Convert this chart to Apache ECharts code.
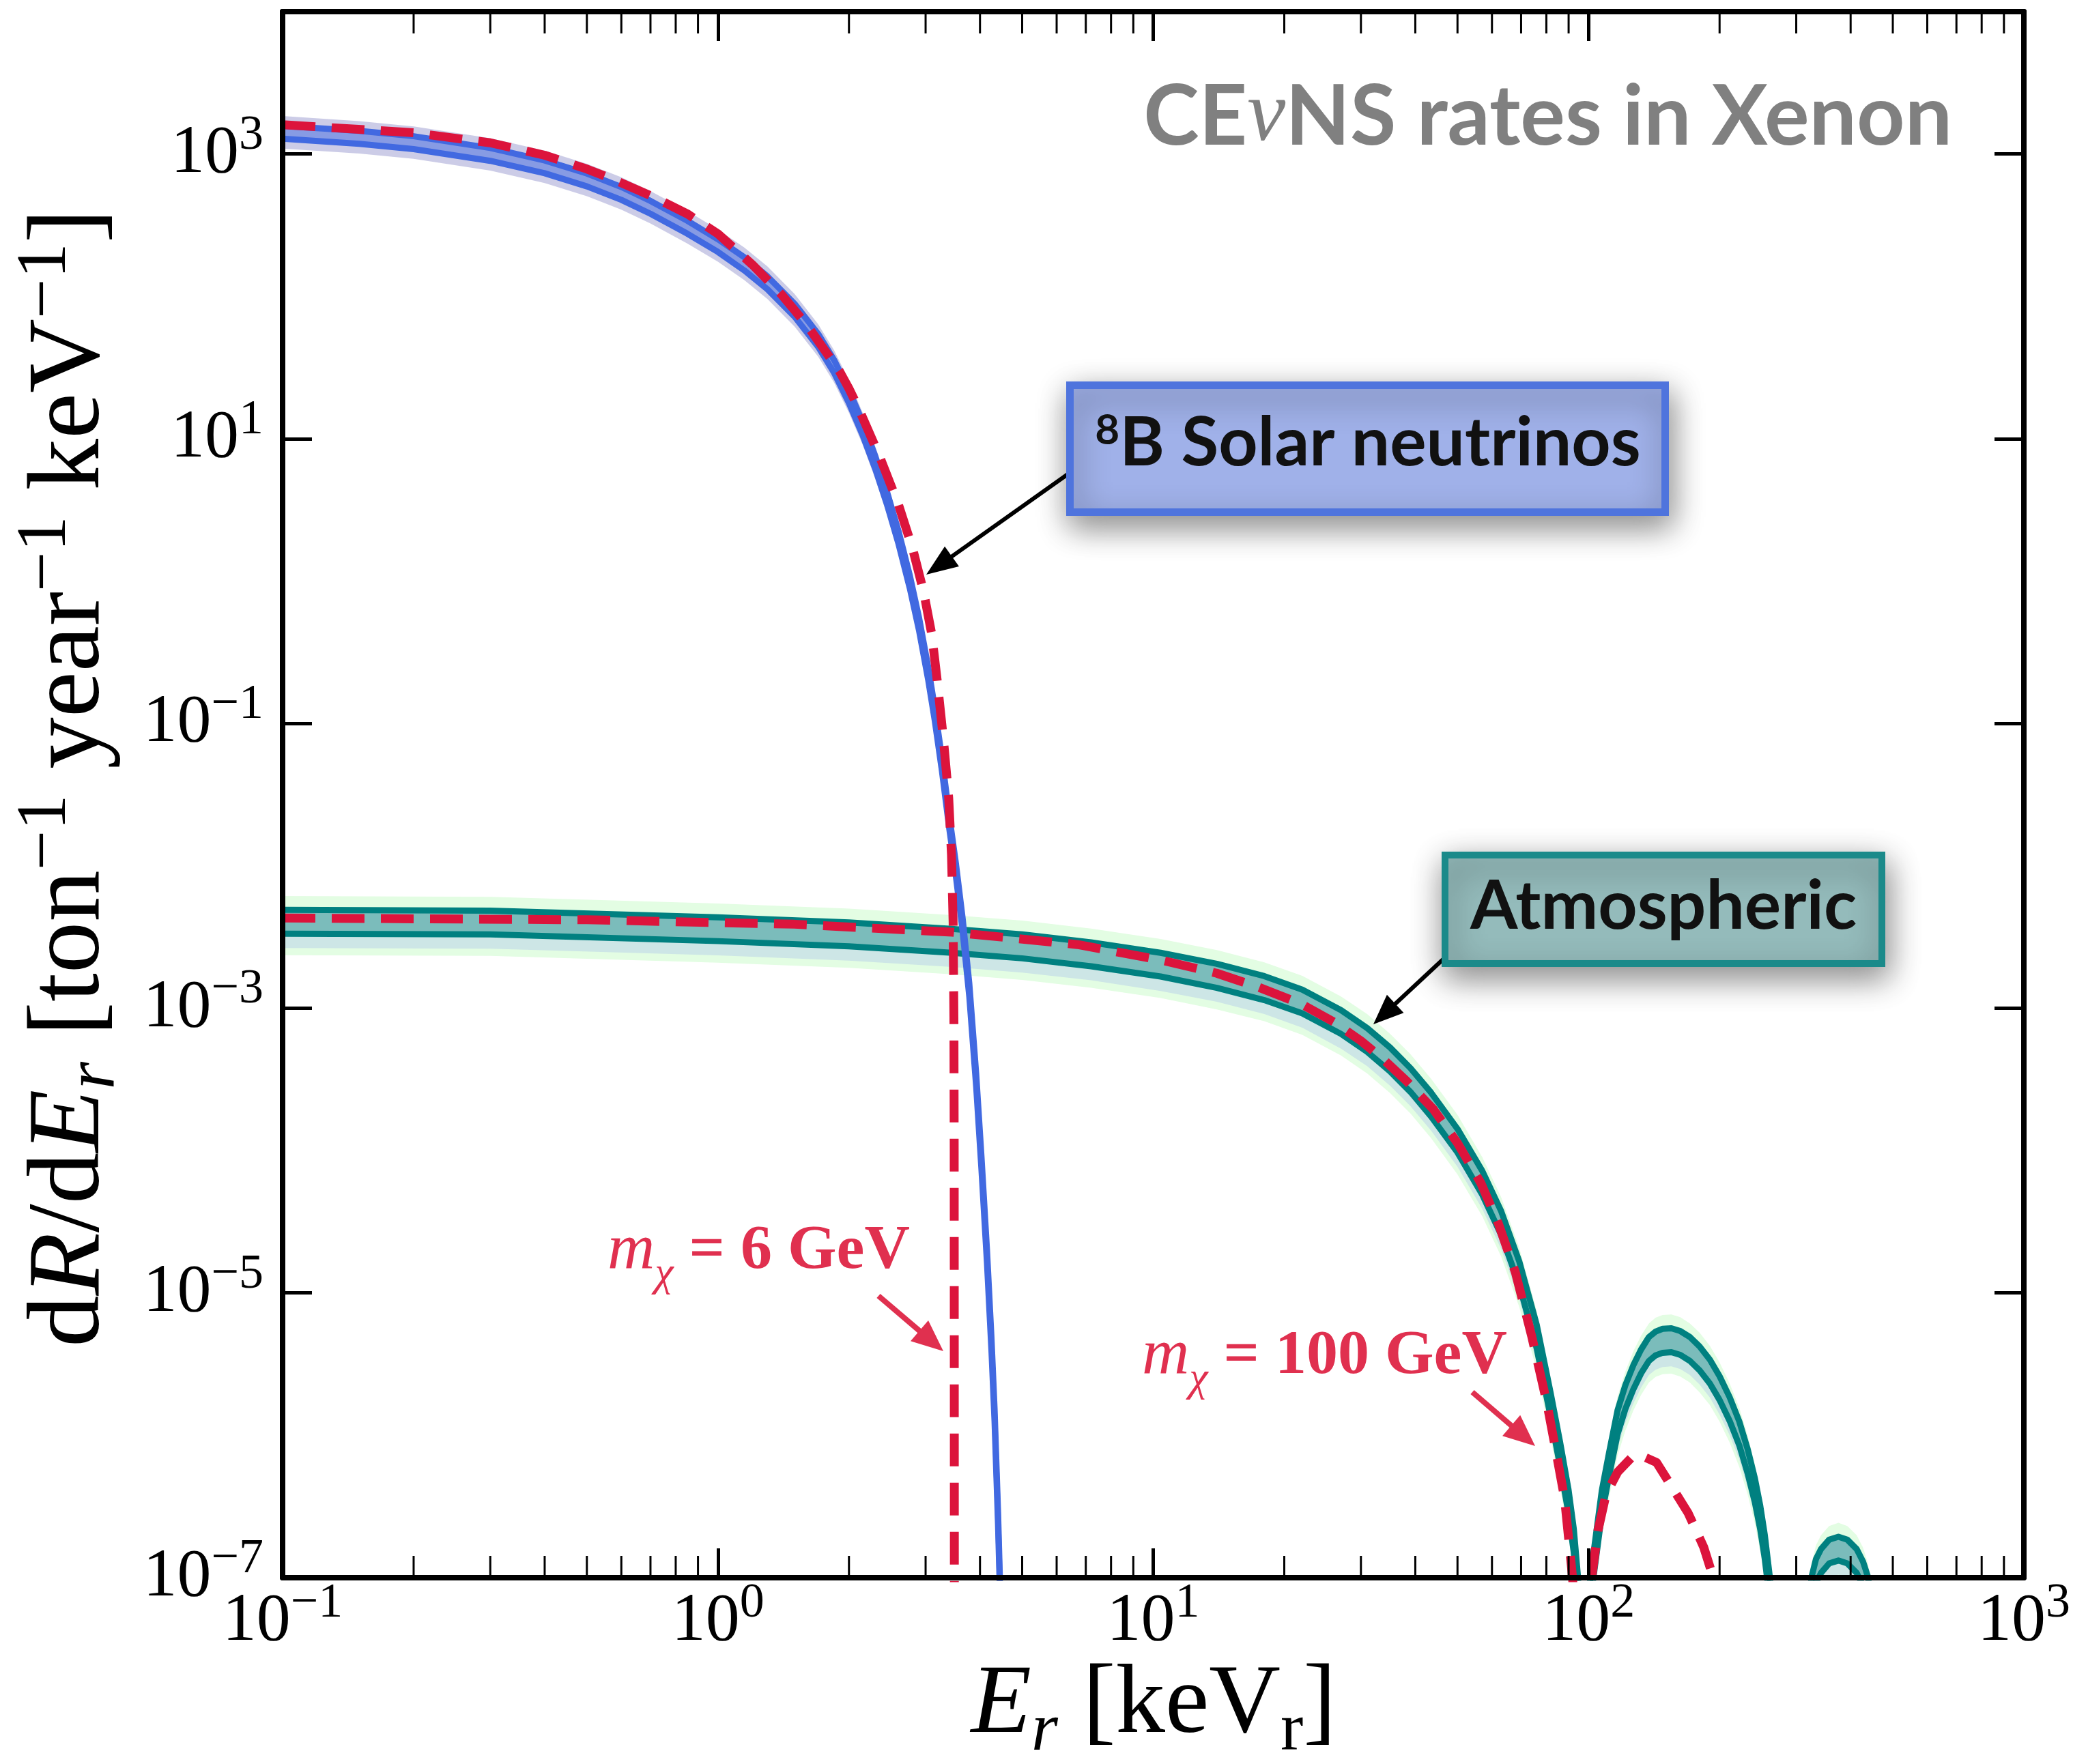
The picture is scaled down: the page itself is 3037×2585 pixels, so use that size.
<!DOCTYPE html>
<html><head><meta charset="utf-8">
<script src="https://cdn.jsdelivr.net/npm/echarts@6/dist/echarts.min.js"></script>
<style>html,body{margin:0;padding:0;background:#fff}#c{width:3037px;height:2585px}</style>
</head><body><div id="c"></div>
<script>
// ---------------- data ----------------
// 8B solar neutrino CEvNS band (keV_r, ton^-1 yr^-1 keV^-1)
const solarE = [0.1,0.15,0.2,0.3,0.4,0.5,0.6,0.7,0.85,1.0,1.15,1.3,1.5,1.7,1.85,2.0,2.15,2.3,2.45,2.6,2.76,2.9,3.04,3.15,3.27,3.4,3.52,3.65,3.78,3.92,4.03,4.15,4.25,4.32,4.4,4.45,4.5];
const solarHi = [1576,1453,1333,1102,901,729,586,468,340,252,188,138,88.7,54.4,35.6,22.0,13.1,7.51,4.17,2.24,1.094,0.547,0.251,0.128,0.0574,0.0225,0.0105,0.00425,1.49e-3,3.47e-4,9.2e-5,2.02e-5,4.86e-6,1.55e-6,2.95e-7,8.5e-8,1e-9];
const solarLo = [1279,1179,1082,895,732,592,476,380,276,205,152,112,72.0,44.1,28.9,17.8,10.6,6.1,3.39,1.82,0.888,0.444,0.204,0.104,0.0466,0.0183,0.00852,0.00345,1.21e-3,2.82e-4,7.5e-5,1.64e-5,3.95e-6,1.26e-6,2.4e-7,6.9e-8,1e-9];
const solarOuterHi = [1846,1702,1561,1291,1056,854,686,549,398,295,220,162,104,63.7,41.7,25.7,15.3,8.8,4.89,2.63,1.28,0.641,0.294,0.15,0.0672,0.0264,0.0123,0.00498,1.74e-3,4.07e-4,1.08e-4,2.37e-5,5.69e-6,1.82e-6,3.46e-7,1.0e-7,1e-9];
const solarOuterLo = [1092,1007,924,764,624,505,406,325,235,175,130,95.7,61.4,37.7,24.7,15.2,9.07,5.21,2.89,1.55,0.758,0.379,0.174,0.0887,0.0398,0.0156,0.00727,0.00295,1.03e-3,2.41e-4,6.4e-5,1.4e-5,3.37e-6,1.08e-6,2.05e-7,5.9e-8,1e-9];

// Atmospheric neutrino CEvNS band
const atmE = [0.1,0.3,1,2,3.45,5,7.2,10.4,14,18,22,27,31,35,39,43.5,50,57,63,69.3,76,81.8,86,89.9,92.5,94.6,96,97.5,99,100.9,104,107.3,111.5,116.6,121.5,126.7,132,137.6,142.5,148,155,162.5,171,180,190,200,211,222,232,241,248,254,261,270,290,318,325,333,342,357,375,393,413,427,439,448,470];
const atmHi = [4.91e-3,4.85e-3,4.35e-3,4.0e-3,3.61e-3,3.3e-3,2.9e-3,2.45e-3,2.05e-3,1.68e-3,1.35e-3,9.7e-4,7.26e-4,5.3e-4,3.79e-4,2.55e-4,1.42e-4,7.2e-5,3.75e-5,1.67e-5,6.0e-6,2.0e-6,9.0e-7,4.2e-7,2.2e-7,1.0e-7,3e-8,1e-9,3e-8,1e-7,2.0e-7,4.1e-7,7.6e-7,1.5e-6,2.25e-6,3.1e-6,4.0e-6,4.9e-6,5.35e-6,5.6e-6,5.65e-6,5.4e-6,4.9e-6,4.2e-6,3.4e-6,2.6e-6,1.85e-6,1.25e-6,8.0e-7,5.0e-7,3.2e-7,2.0e-7,1.0e-7,3e-8,1e-9,3e-8,1e-7,1.35e-7,1.59e-7,1.85e-7,1.94e-7,1.85e-7,1.59e-7,1.3e-7,1e-7,5e-8,1e-9];
const atmLo = [3.34e-3,3.30e-3,2.96e-3,2.72e-3,2.45e-3,2.24e-3,1.97e-3,1.67e-3,1.39e-3,1.14e-3,9.2e-4,6.6e-4,4.94e-4,3.6e-4,2.58e-4,1.73e-4,9.7e-5,4.9e-5,2.55e-5,1.14e-5,4.1e-6,1.36e-6,6.1e-7,2.86e-7,1.5e-7,6.8e-8,2e-8,1e-9,2e-8,6.8e-8,1.36e-7,2.8e-7,5.2e-7,1.02e-6,1.53e-6,2.1e-6,2.72e-6,3.33e-6,3.64e-6,3.8e-6,3.84e-6,3.67e-6,3.33e-6,2.86e-6,2.31e-6,1.77e-6,1.26e-6,8.5e-7,5.4e-7,3.4e-7,2.18e-7,1.36e-7,6.8e-8,2e-8,1e-9,2e-8,6.8e-8,9.2e-8,1.08e-7,1.26e-7,1.32e-7,1.26e-7,1.08e-7,8.8e-8,6.8e-8,3.4e-8,1e-9];
const atmBlueLo = [2.65e-3,2.62e-3,2.35e-3,2.16e-3,1.95e-3,1.78e-3,1.57e-3,1.32e-3,1.11e-3,9.1e-4,7.3e-4,5.2e-4,3.92e-4,2.86e-4,2.05e-4,1.38e-4,7.7e-5,3.9e-5,2.03e-5,9.0e-6,3.24e-6,1.08e-6,4.9e-7,2.27e-7,1.19e-7,5.4e-8,1.6e-8,1e-9,1.6e-8,5.4e-8,1.08e-7,2.2e-7,4.1e-7,8.1e-7,1.22e-6,1.67e-6,2.16e-6,2.65e-6,2.89e-6,3.02e-6,3.05e-6,2.92e-6,2.65e-6,2.27e-6,1.84e-6,1.4e-6,1.0e-6,6.75e-7,4.32e-7,2.7e-7,1.73e-7,1.08e-7,5.4e-8,1.6e-8,1e-9,1.6e-8,5.4e-8,7.3e-8,8.6e-8,1.0e-7,1.05e-7,1.0e-7,8.6e-8,7.0e-8,5.4e-8,2.7e-8,1e-9];
const atmGreenHi = [6.14e-3,6.06e-3,5.44e-3,5.0e-3,4.51e-3,4.13e-3,3.63e-3,3.06e-3,2.56e-3,2.1e-3,1.69e-3,1.21e-3,9.1e-4,6.6e-4,4.74e-4,3.19e-4,1.78e-4,9.0e-5,4.7e-5,2.09e-5,7.5e-6,2.5e-6,1.13e-6,5.25e-7,2.75e-7,1.25e-7,3.8e-8,1e-9,3.8e-8,1.25e-7,2.5e-7,5.1e-7,9.5e-7,1.88e-6,2.81e-6,3.88e-6,5.0e-6,6.1e-6,6.7e-6,7.0e-6,7.06e-6,6.75e-6,6.1e-6,5.25e-6,4.25e-6,3.25e-6,2.31e-6,1.56e-6,1.0e-6,6.25e-7,4.0e-7,2.5e-7,1.25e-7,3.8e-8,1e-9,3.8e-8,1.25e-7,1.69e-7,1.99e-7,2.31e-7,2.43e-7,2.31e-7,1.99e-7,1.63e-7,1.25e-7,6.3e-8,1e-9];
const atmGreenLo = [2.36e-3,2.33e-3,2.09e-3,1.92e-3,1.73e-3,1.58e-3,1.39e-3,1.18e-3,9.8e-4,8.1e-4,6.5e-4,4.66e-4,3.48e-4,2.54e-4,1.82e-4,1.22e-4,6.8e-5,3.46e-5,1.8e-5,8.0e-6,2.88e-6,9.6e-7,4.3e-7,2.0e-7,1.06e-7,4.8e-8,1.4e-8,1e-9,1.4e-8,4.8e-8,9.6e-8,2.0e-7,3.65e-7,7.2e-7,1.08e-6,1.49e-6,1.92e-6,2.35e-6,2.57e-6,2.69e-6,2.71e-6,2.59e-6,2.35e-6,2.0e-6,1.63e-6,1.25e-6,8.9e-7,6.0e-7,3.84e-7,2.4e-7,1.54e-7,9.6e-8,4.8e-8,1.4e-8,1e-9,1.4e-8,4.8e-8,6.5e-8,7.6e-8,8.9e-8,9.3e-8,8.9e-8,7.6e-8,6.2e-8,4.8e-8,2.4e-8,1e-9];

// WIMP spectra (dashed)
const dm6E = [0.1,0.2,0.3,0.4,0.5,0.578,0.7,0.85,1.0,1.2,1.4,1.6,1.9,2.0,2.1,2.35,2.6,2.8,2.97,3.1,3.19,3.3,3.39,3.44,3.47,3.485,3.49,3.495];
const dm6 = [1607,1409,1198,980,784,659,510,380,275,167,103,63,30,22.5,16.6,7.55,3.43,1.70,0.837,0.422,0.2,0.075,0.03,0.012,0.004,8e-4,1e-4,1e-9];
const dm100E = [0.1,0.5,1.5,3.45,6.7,10.4,14,17.5,21.9,26,30,34,38.1,44,50,56.6,62,67.9,74,80.2,84,88.1,91.9,94,96.5,99,101.7,105.1,109.7,116.7,126.8,135,143.3,155.8,169.3,183.9,193.5,215];
const dm100 = [4.30e-3,4.18e-3,3.89e-3,3.42e-3,2.80e-3,2.18e-3,1.76e-3,1.40e-3,1.07e-3,8.0e-4,5.9e-4,4.3e-4,3.1e-4,1.95e-4,1.13e-4,5.9e-5,3.1e-5,1.4e-5,5.0e-6,1.7e-6,8.0e-7,3.6e-7,1e-7,3e-8,1e-9,3e-8,1e-7,2.14e-7,3.85e-7,5.53e-7,7.2e-7,7.0e-7,6.45e-7,4.29e-7,2.85e-7,1.64e-7,1e-7,1e-9];

// ticks
const xTickExponents = [-1,0,1,2,3];
const yTickExponents = [-7,-5,-3,-1,1,3];
const minorMultipliers = [2,3,4,5,6,7,8,9];

// texts
const titleText = ['CE','ν','NS rates in Xenon'];
const solarLabel = ['8','B Solar neutrinos'];
const atmLabel = 'Atmospheric';
const dm6Label = ['m','χ',' = 6 GeV'];
const dm100Label = ['m','χ',' = 100 GeV'];

// ---------------- chart ----------------
const L10 = Math.log10;
const SERIF = 'Liberation Serif';
const SANS = 'Lato';
const RED = '#dc143c';
const RED_TXT = '#e0304f';

function toPts(E, V){ return E.map((e,i)=>[L10(e), L10(V[i])]); }

function band(E, hi, lo, color){
  return {
    type:'custom', silent:true, animation:false,
    data:[[0,0]],
    renderItem(params, api){
      const cs = params.coordSys;
      const pts = [];
      for (let i=0;i<E.length;i++) pts.push(api.coord([L10(E[i]), L10(hi[i])]));
      for (let i=E.length-1;i>=0;i--) pts.push(api.coord([L10(E[i]), L10(lo[i])]));
      return {type:'group',
        clipPath:{type:'rect', shape:{x:cs.x, y:cs.y, width:cs.width, height:cs.height}},
        children:[{type:'polygon', shape:{points:pts}, style:{fill:color}}]};
    }
  };
}
function line(E, V, color, width, dash){
  return {type:'line', data:toPts(E,V), symbol:'none', showSymbol:false, clip:true,
    silent:true, animation:false, smooth:false,
    lineStyle:{color, width, type: dash || 'solid', cap:'butt', join:'round'}};
}

const minorTickPos = [];
for (const d of xTickExponents.slice(0,-1)) for (const m of minorMultipliers) minorTickPos.push(d + L10(m));

const minorTicks = {
  type:'custom', silent:true, animation:false, z:10,
  data: minorTickPos.map(v=>[v, 0]),
  renderItem(params, api){
    const cs = params.coordSys;
    const x = api.coord([api.value(0), 0])[0];
    const yb = cs.y + cs.height, yt = cs.y;
    return {type:'group', children:[
      {type:'line', shape:{x1:x,y1:yb,x2:x,y2:yb-32}, style:{stroke:'#000', lineWidth:3}},
      {type:'line', shape:{x1:x,y1:yt,x2:x,y2:yt+32}, style:{stroke:'#000', lineWidth:3}}
    ]};
  }
};

const supFmt = v => '{b|10}{s|' + (v < 0 ? '\u2212' + Math.abs(v) : String(v)) + '}';
const labRich = {
  b:{fontFamily:SERIF, fontSize:100, lineHeight:126, color:'#000'},
  s:{fontFamily:SERIF, fontSize:72, lineHeight:72, verticalAlign:'top', color:'#000'}
};
const axisCommon = {
  type:'value', z:10,
  axisLine:{show:true, onZero:false, lineStyle:{color:'#000', width:8}},
  axisTick:{show:true, inside:true, length:43, lineStyle:{color:'#000', width:5}},
  splitLine:{show:false}, minorTick:{show:false}
};

function arrow(x1,y1,x2,y2,color,w,hl,hw){
  const dx=x2-x1, dy=y2-y1, Ln=Math.hypot(dx,dy), ux=dx/Ln, uy=dy/Ln;
  const bx=x2-ux*hl, by=y2-uy*hl, nx=-uy, ny=ux;
  return [
    {type:'line', z:30, shape:{x1,y1,x2:bx+ux*3,y2:by+uy*3}, style:{stroke:color, lineWidth:w}},
    {type:'polygon', z:31, shape:{points:[[x2,y2],[bx+nx*hw/2,by+ny*hw/2],[bx-nx*hw/2,by-ny*hw/2]]}, style:{fill:color}}
  ];
}

const mainLH = 176;
const redRich = {
  m:{fontFamily:SERIF, fontStyle:'italic', fontSize:96, lineHeight:130, fill:RED_TXT},
  c:{fontFamily:SERIF, fontStyle:'italic', fontSize:62, lineHeight:62, verticalAlign:'bottom', fill:RED_TXT},
  t:{fontFamily:SERIF, fontWeight:'bold', fontSize:92, lineHeight:130, fill:RED_TXT}
};
const graphics = [
  // title
  {type:'text', z:40, x:2860, y:172, style:{
    text:'{a|'+titleText[0]+'}{n|'+titleText[1]+'}{a|'+titleText[2]+'}',
    align:'right', verticalAlign:'middle', textAlign:'right', textVerticalAlign:'middle', fill:'#808080',
    rich:{a:{fontFamily:SANS, fontWeight:'bold', fontSize:123, fill:'#808080', lineHeight:136},
          n:{fontFamily:SERIF, fontStyle:'italic', fontSize:126, fill:'#808080', lineHeight:136}}}},
  // 8B box
  ...arrow(1567,693,1357,842,'#000',6,46,36),
  {type:'rect', z:32, shape:{x:1567.5, y:564.5, width:872, height:186},
    style:{fill:'#a0b1e9', stroke:'#4f74dd', lineWidth:11, shadowBlur:45, shadowColor:'rgba(0,0,0,0.45)', shadowOffsetX:4, shadowOffsetY:16}},
  {type:'text', z:33, x:2004, y:650, style:{
    text:'{s|'+solarLabel[0]+'}{b|'+solarLabel[1]+'}', align:'center', verticalAlign:'middle', textAlign:'center', textVerticalAlign:'middle',
    rich:{b:{fontFamily:SANS, fontWeight:'bold', fontSize:100, lineHeight:100, fill:'#111'},
          s:{fontFamily:SANS, fontWeight:'bold', fontSize:62, lineHeight:82, verticalAlign:'top', fill:'#111'}}}},
  // Atmospheric box
  ...arrow(2115,1405,2012,1501,'#000',6,44,36),
  {type:'rect', z:32, shape:{x:2117, y:1253, width:640, height:159},
    style:{fill:'#94bbbb', stroke:'#1b8a8a', lineWidth:10, shadowBlur:45, shadowColor:'rgba(0,0,0,0.45)', shadowOffsetX:4, shadowOffsetY:16}},
  {type:'text', z:33, x:2437, y:1329, style:{
    text:atmLabel, align:'center', verticalAlign:'middle', textAlign:'center', textVerticalAlign:'middle',
    font:'bold 100px Lato', fill:'#111'}},
  // red labels
  {type:'text', z:33, x:890, y:1834, style:{
    text:'{m|'+dm6Label[0]+'}{c|'+dm6Label[1]+'}{t|'+dm6Label[2]+'}', align:'left', verticalAlign:'middle', textAlign:'left', textVerticalAlign:'middle',
    rich:redRich}},
  ...arrow(1287,1899,1382,1980,RED_TXT,8,46,40),
  {type:'text', z:33, x:1673, y:1988, style:{
    text:'{m|'+dm100Label[0]+'}{c|'+dm100Label[1]+'}{t|'+dm100Label[2]+'}', align:'left', verticalAlign:'middle', textAlign:'left', textVerticalAlign:'middle',
    rich:redRich}},
  ...arrow(2157,2040,2249,2119,RED_TXT,8,46,40),
  // x axis name
  {type:'text', z:40, x:1690, y:2500, style:{
    text:'{i|E}{is|r}{n| [keV}{rs|r}{n|]}', align:'center', verticalAlign:'middle', textAlign:'center', textVerticalAlign:'middle',
    rich:{i:{fontFamily:SERIF, fontStyle:'italic', fontSize:145, lineHeight:mainLH, fill:'#000'},
          n:{fontFamily:SERIF, fontSize:145, lineHeight:mainLH, fill:'#000'},
          is:{fontFamily:SERIF, fontStyle:'italic', fontSize:100, lineHeight:100, verticalAlign:'bottom', fill:'#000'},
          rs:{fontFamily:SERIF, fontSize:100, lineHeight:100, verticalAlign:'bottom', fill:'#000'}}}},
  // y axis name
  {type:'text', z:40, x:104, y:1140, rotation:Math.PI/2, style:{
    text:'{n|d}{i|R}{n|/d}{i|E}{is|r}{n| [ton}{sp|\u22121}{n| year}{sp|\u22121}{n| keV}{sp|\u22121}{n|]}',
    align:'center', verticalAlign:'middle', textAlign:'center', textVerticalAlign:'middle',
    rich:{i:{fontFamily:SERIF, fontStyle:'italic', fontSize:151, lineHeight:mainLH, fill:'#000'},
          n:{fontFamily:SERIF, fontSize:151, lineHeight:mainLH, fill:'#000'},
          is:{fontFamily:SERIF, fontStyle:'italic', fontSize:104, lineHeight:104, verticalAlign:'bottom', fill:'#000'},
          sp:{fontFamily:SERIF, fontSize:104, lineHeight:104, verticalAlign:'top', fill:'#000'}}}}
];

const option = {
  backgroundColor:'#fff',
  animation:false,
  grid:{left:414, right:72, top:17, bottom:273, containLabel:false},
  xAxis:[
    Object.assign({}, axisCommon, {position:'bottom', min:-1, max:3, interval:1,
      axisLabel:{show:true, margin:2, formatter:supFmt, rich:labRich}}),
    Object.assign({}, axisCommon, {position:'top', min:-1, max:3, interval:1, axisLabel:{show:false}})
  ],
  yAxis:[
    Object.assign({}, axisCommon, {position:'left', min:-7, max:4, interval:2,
      axisLabel:{show:true, margin:28, showMaxLabel:false, formatter:supFmt, rich:labRich}}),
    Object.assign({}, axisCommon, {position:'right', min:-7, max:4, interval:2, axisLabel:{show:false}})
  ],
  series:[
    band(atmE, atmGreenHi, atmGreenLo, '#e3fde3'),
    band(atmE, atmHi, atmBlueLo, '#cde6e6'),
    band(atmE, atmHi, atmLo, '#7bbcbb'),
    line(atmE, atmHi, '#008080', 9),
    line(atmE, atmLo, '#008080', 9),
    band(solarE, solarOuterHi, solarOuterLo, 'rgba(110,110,185,0.35)'),
    band(solarE, solarHi, solarLo, 'rgba(65,105,225,0.5)'),
    line(solarE, solarHi, '#4169e1', 9),
    line(solarE, solarLo, '#4169e1', 9),
    line(dm100E, dm100, RED, 13, [48,24]),
    line(dm6E, dm6, RED, 13, [48,24]),
    minorTicks
  ],
  graphic:{elements:graphics}
};
const chart = echarts.init(document.getElementById('c'), null, {renderer:'canvas', width:3037, height:2585});
chart.setOption(option);
</script></body></html>
